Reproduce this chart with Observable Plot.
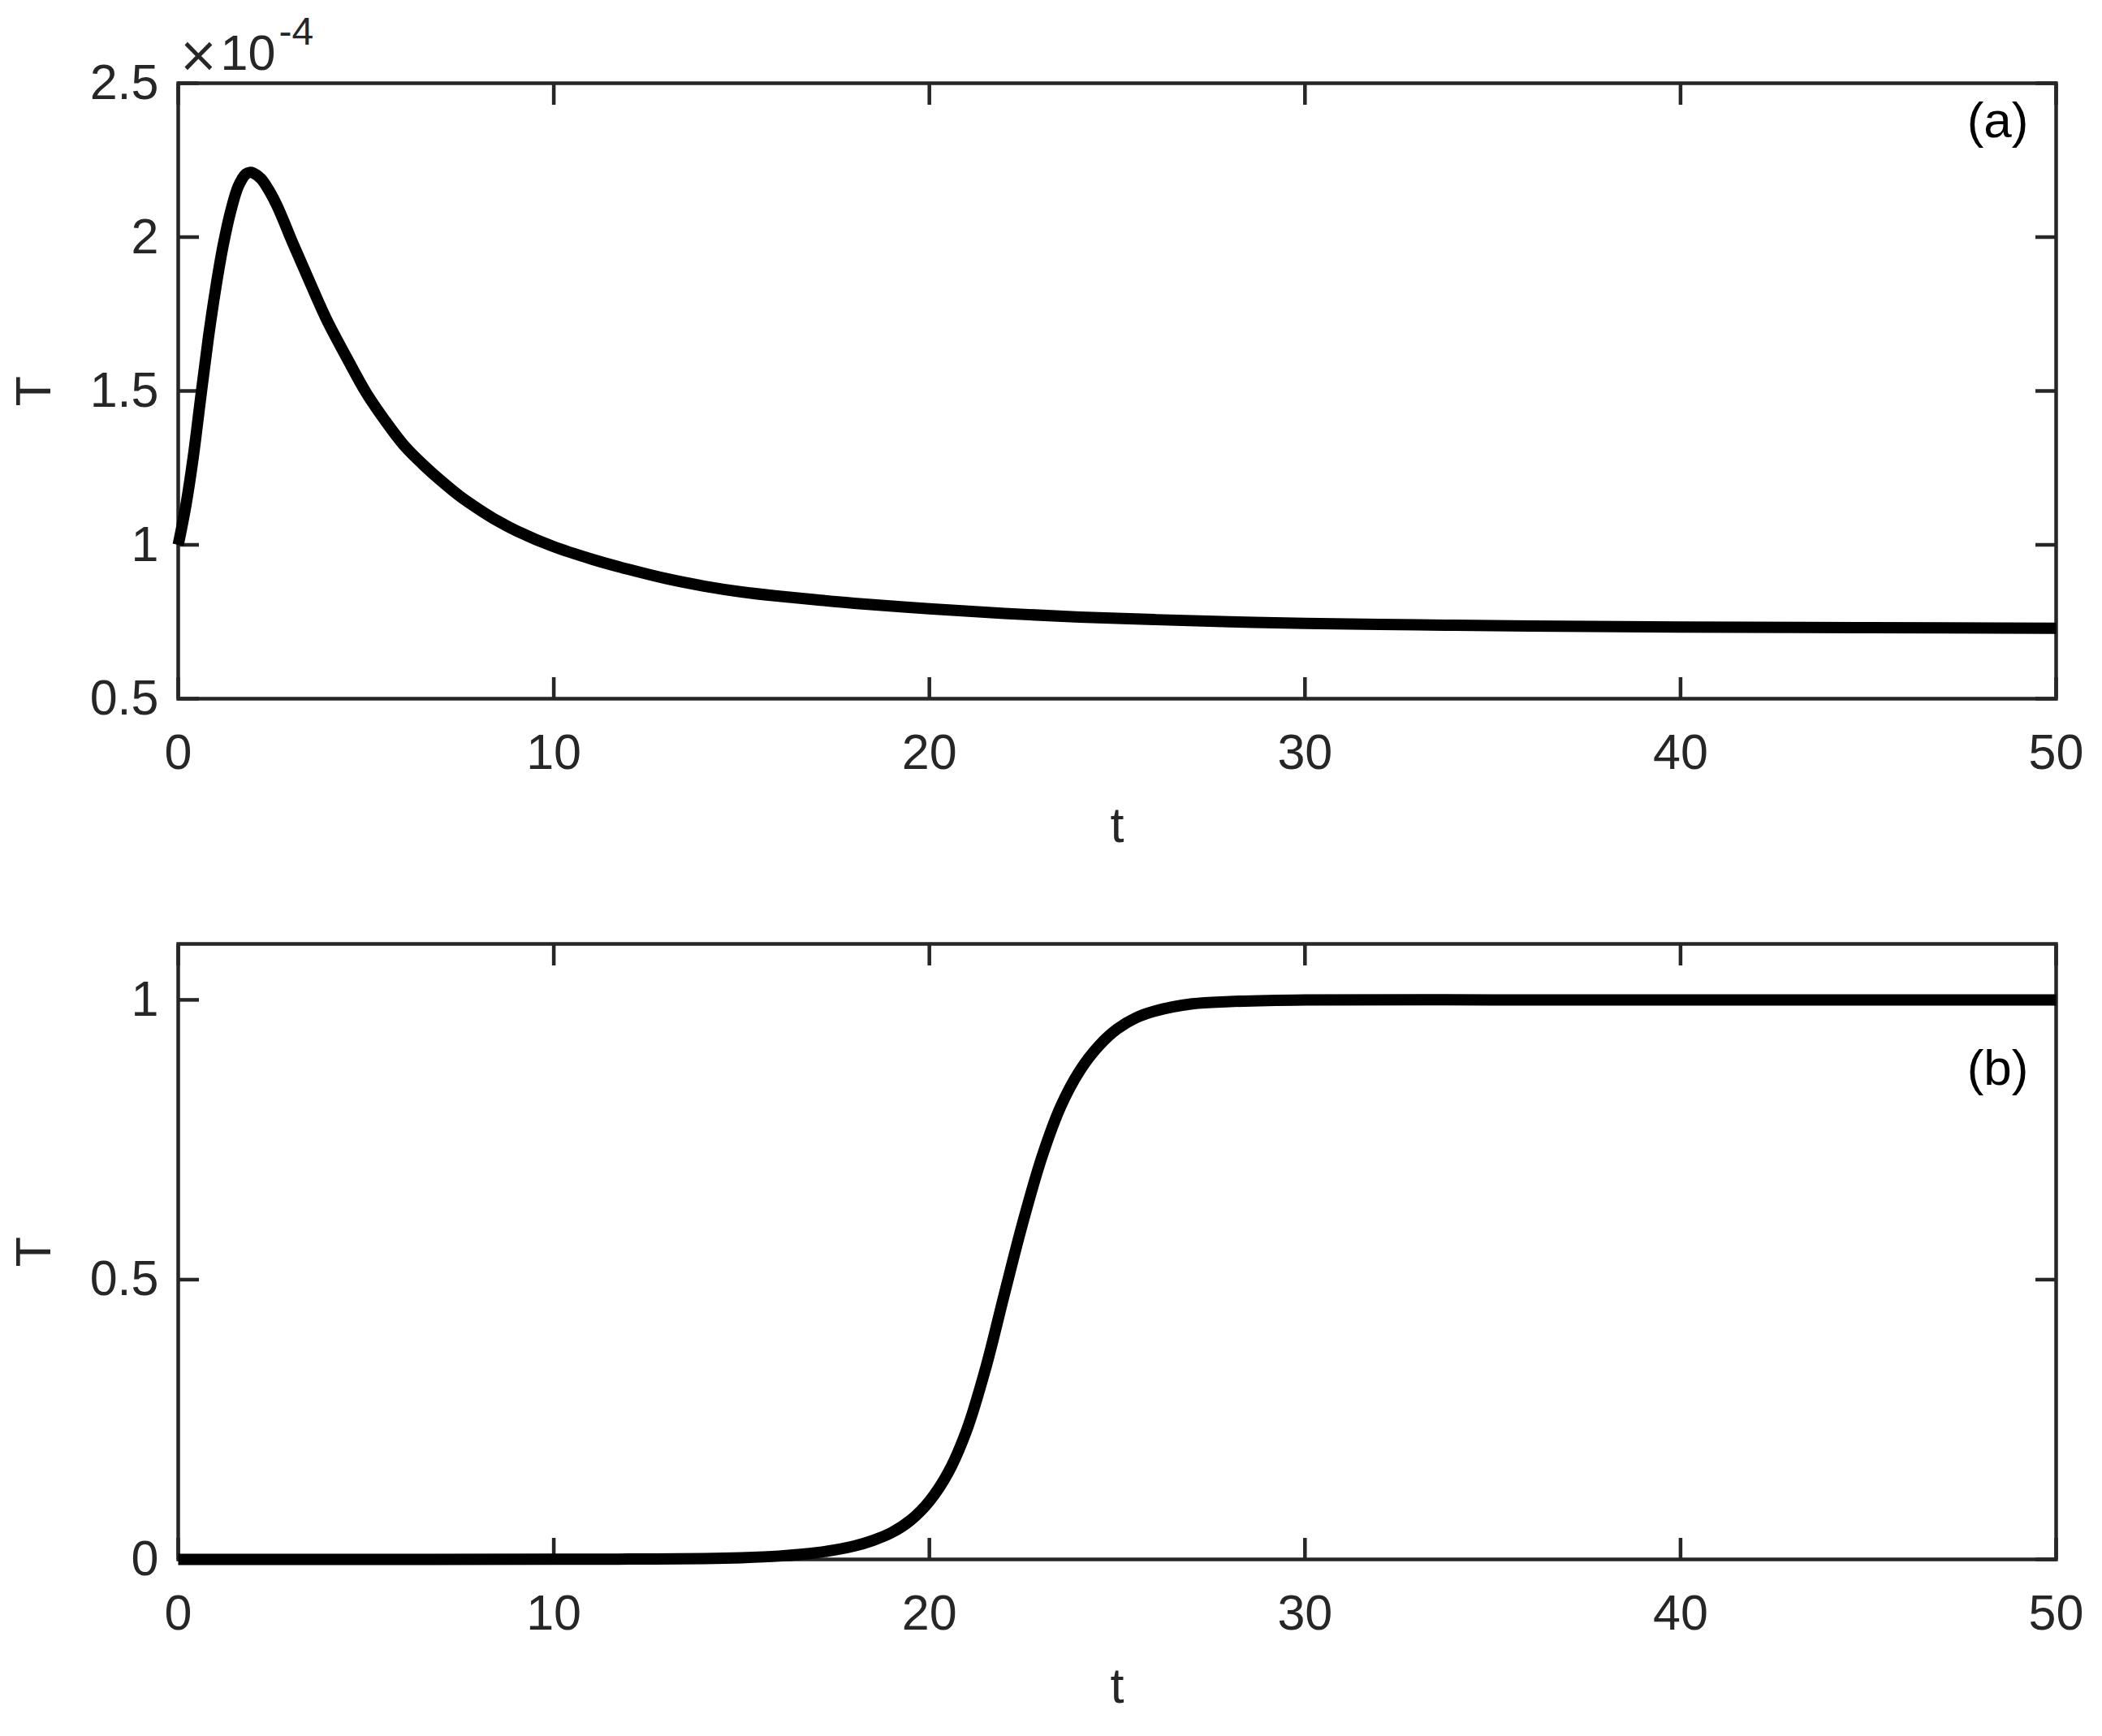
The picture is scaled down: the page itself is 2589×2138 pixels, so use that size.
<!DOCTYPE html>
<html><head><meta charset="utf-8">
<script src="https://cdn.jsdelivr.net/npm/d3@7"></script>
<script src="https://cdn.jsdelivr.net/npm/@observablehq/plot@0.6"></script>
<style>
body{margin:0;background:#fff}
#chart{width:2589px}
#chart svg{display:block;overflow:visible}
</style>
</head><body><div id="chart"></div>
<script>
// ---- data ----
const tA = [0,0.2,0.4,0.6,0.8,1.0,1.2,1.4,1.6,1.8,1.9,2.0,2.2,2.4,2.6,2.8,3.0,3.25,3.5,3.77,4.0,4.5,5.0,5.5,6.0,6.5,7.0,7.5,8.0,8.5,9.0,10,11,12,13,14,15,16,17,18,20,22,24,26,28,30,33,36,40,45,50];
const vA = [1.00,1.125,1.285,1.48,1.67,1.835,1.975,2.085,2.165,2.205,2.21,2.208,2.19,2.155,2.11,2.055,1.995,1.925,1.855,1.78,1.72,1.605,1.495,1.405,1.325,1.263,1.208,1.158,1.116,1.078,1.046,0.994,0.954,0.92,0.89,0.866,0.847,0.833,0.821,0.81,0.792,0.777,0.765,0.757,0.75,0.745,0.74,0.736,0.733,0.731,0.729];
const tB = [0,5,10,12,14,15,16,17,18,18.5,19,19.5,20,20.5,21,21.5,22,22.5,23,23.5,24,24.5,25,25.5,26,27,28,30,35,40,50];
const vB = [0,0,0.0002,0.0006,0.0015,0.003,0.006,0.012,0.024,0.034,0.048,0.07,0.104,0.155,0.232,0.342,0.475,0.605,0.72,0.81,0.873,0.917,0.948,0.968,0.98,0.993,0.997,1,1,1,1];
const xTicks = [0,10,20,30,40,50];
const yTicksA = [0.5,1,1.5,2,2.5];
const yTicksB = [0,0.5,1];
const xLabel = "t";
const yLabel = "T";
const tagA = "(a)";
const tagB = "(b)";
const expTimes = "×";
const expBase = "10";
const expPow = "-4";

const ink = "#262626";
const font = "'Liberation Sans', Arial, Helvetica, sans-serif";
const fs = 61;

function panel({t, v, yDomain, yTicks, tag, tagDy, exponent, height, marginTop, marginBottom}) {
  const data = t.map((d, i) => ({t: d, v: v[i]}));
  const fmt = d => String(d);
  const marks = [
    Plot.axisX(xTicks, {anchor: "bottom", tickSize: -26, tickPadding: 69, tickFormat: fmt, label: null, stroke: ink, fill: ink, strokeWidth: 4.5, fontSize: fs}),
    Plot.axisX(xTicks, {anchor: "top", tickSize: -26, tickFormat: () => "", label: null, stroke: ink, strokeWidth: 4.5}),
    Plot.axisY(yTicks, {anchor: "left", tickSize: -26, tickPadding: 50, tickFormat: fmt, label: null, stroke: ink, fill: ink, strokeWidth: 4.5, fontSize: fs}),
    Plot.axisY(yTicks, {anchor: "right", tickSize: -26, tickFormat: () => "", label: null, stroke: ink, strokeWidth: 4.5}),
    Plot.frame({stroke: ink, strokeWidth: 4.5}),
    Plot.line(data, {x: "t", y: "v", stroke: "black", strokeWidth: 14, curve: "catmull-rom", strokeLinecap: "butt", strokeLinejoin: "round"}),
    Plot.text([xLabel], {frameAnchor: "bottom", dy: 157, text: d => d, fontSize: fs, fill: ink, lineAnchor: "middle"}),
    Plot.text([yLabel], {frameAnchor: "left", dx: -177, rotate: -90, text: d => d, fontSize: fs, fill: ink, lineAnchor: "middle", textAnchor: "middle"}),
    Plot.text([tag], {frameAnchor: "top-right", dx: -34, dy: tagDy, text: d => d, fontSize: 62, fill: "black", textAnchor: "end", lineAnchor: "bottom"})
  ];
  if (exponent) {
    marks.push(Plot.text([expTimes], {frameAnchor: "top-left", dx: 25, dy: -34, text: d => d, fontSize: 60, fontFamily: "DejaVu Sans", fill: ink, textAnchor: "middle", lineAnchor: "middle"}));
    marks.push(Plot.text([expBase], {frameAnchor: "top-left", dx: 52, dy: -17, text: d => d, fontSize: fs, fill: ink, textAnchor: "start", lineAnchor: "bottom"}));
    marks.push(Plot.text([expPow], {frameAnchor: "top-left", dx: 124, dy: -48, text: d => d, fontSize: 48, fill: ink, textAnchor: "start", lineAnchor: "bottom"}));
  }
  return Plot.plot({
    width: 2589, height, marginTop, marginBottom, marginLeft: 219, marginRight: 57,
    style: {fontFamily: font, background: "#fff", overflow: "visible"},
    x: {domain: [0, 50]},
    y: {domain: yDomain},
    marks
  });
}

const el = document.getElementById("chart");
el.append(panel({t: tA, v: vA, yDomain: [0.5, 2.5], yTicks: yTicksA, tag: tagA, tagDy: 66, exponent: true, height: 1060, marginTop: 102, marginBottom: 200}));
el.append(panel({t: tB, v: vB, yDomain: [0, 1.1], yTicks: yTicksB, tag: tagB, tagDy: 173, exponent: false, height: 1078, marginTop: 102, marginBottom: 218}));
</script>
</body></html>
